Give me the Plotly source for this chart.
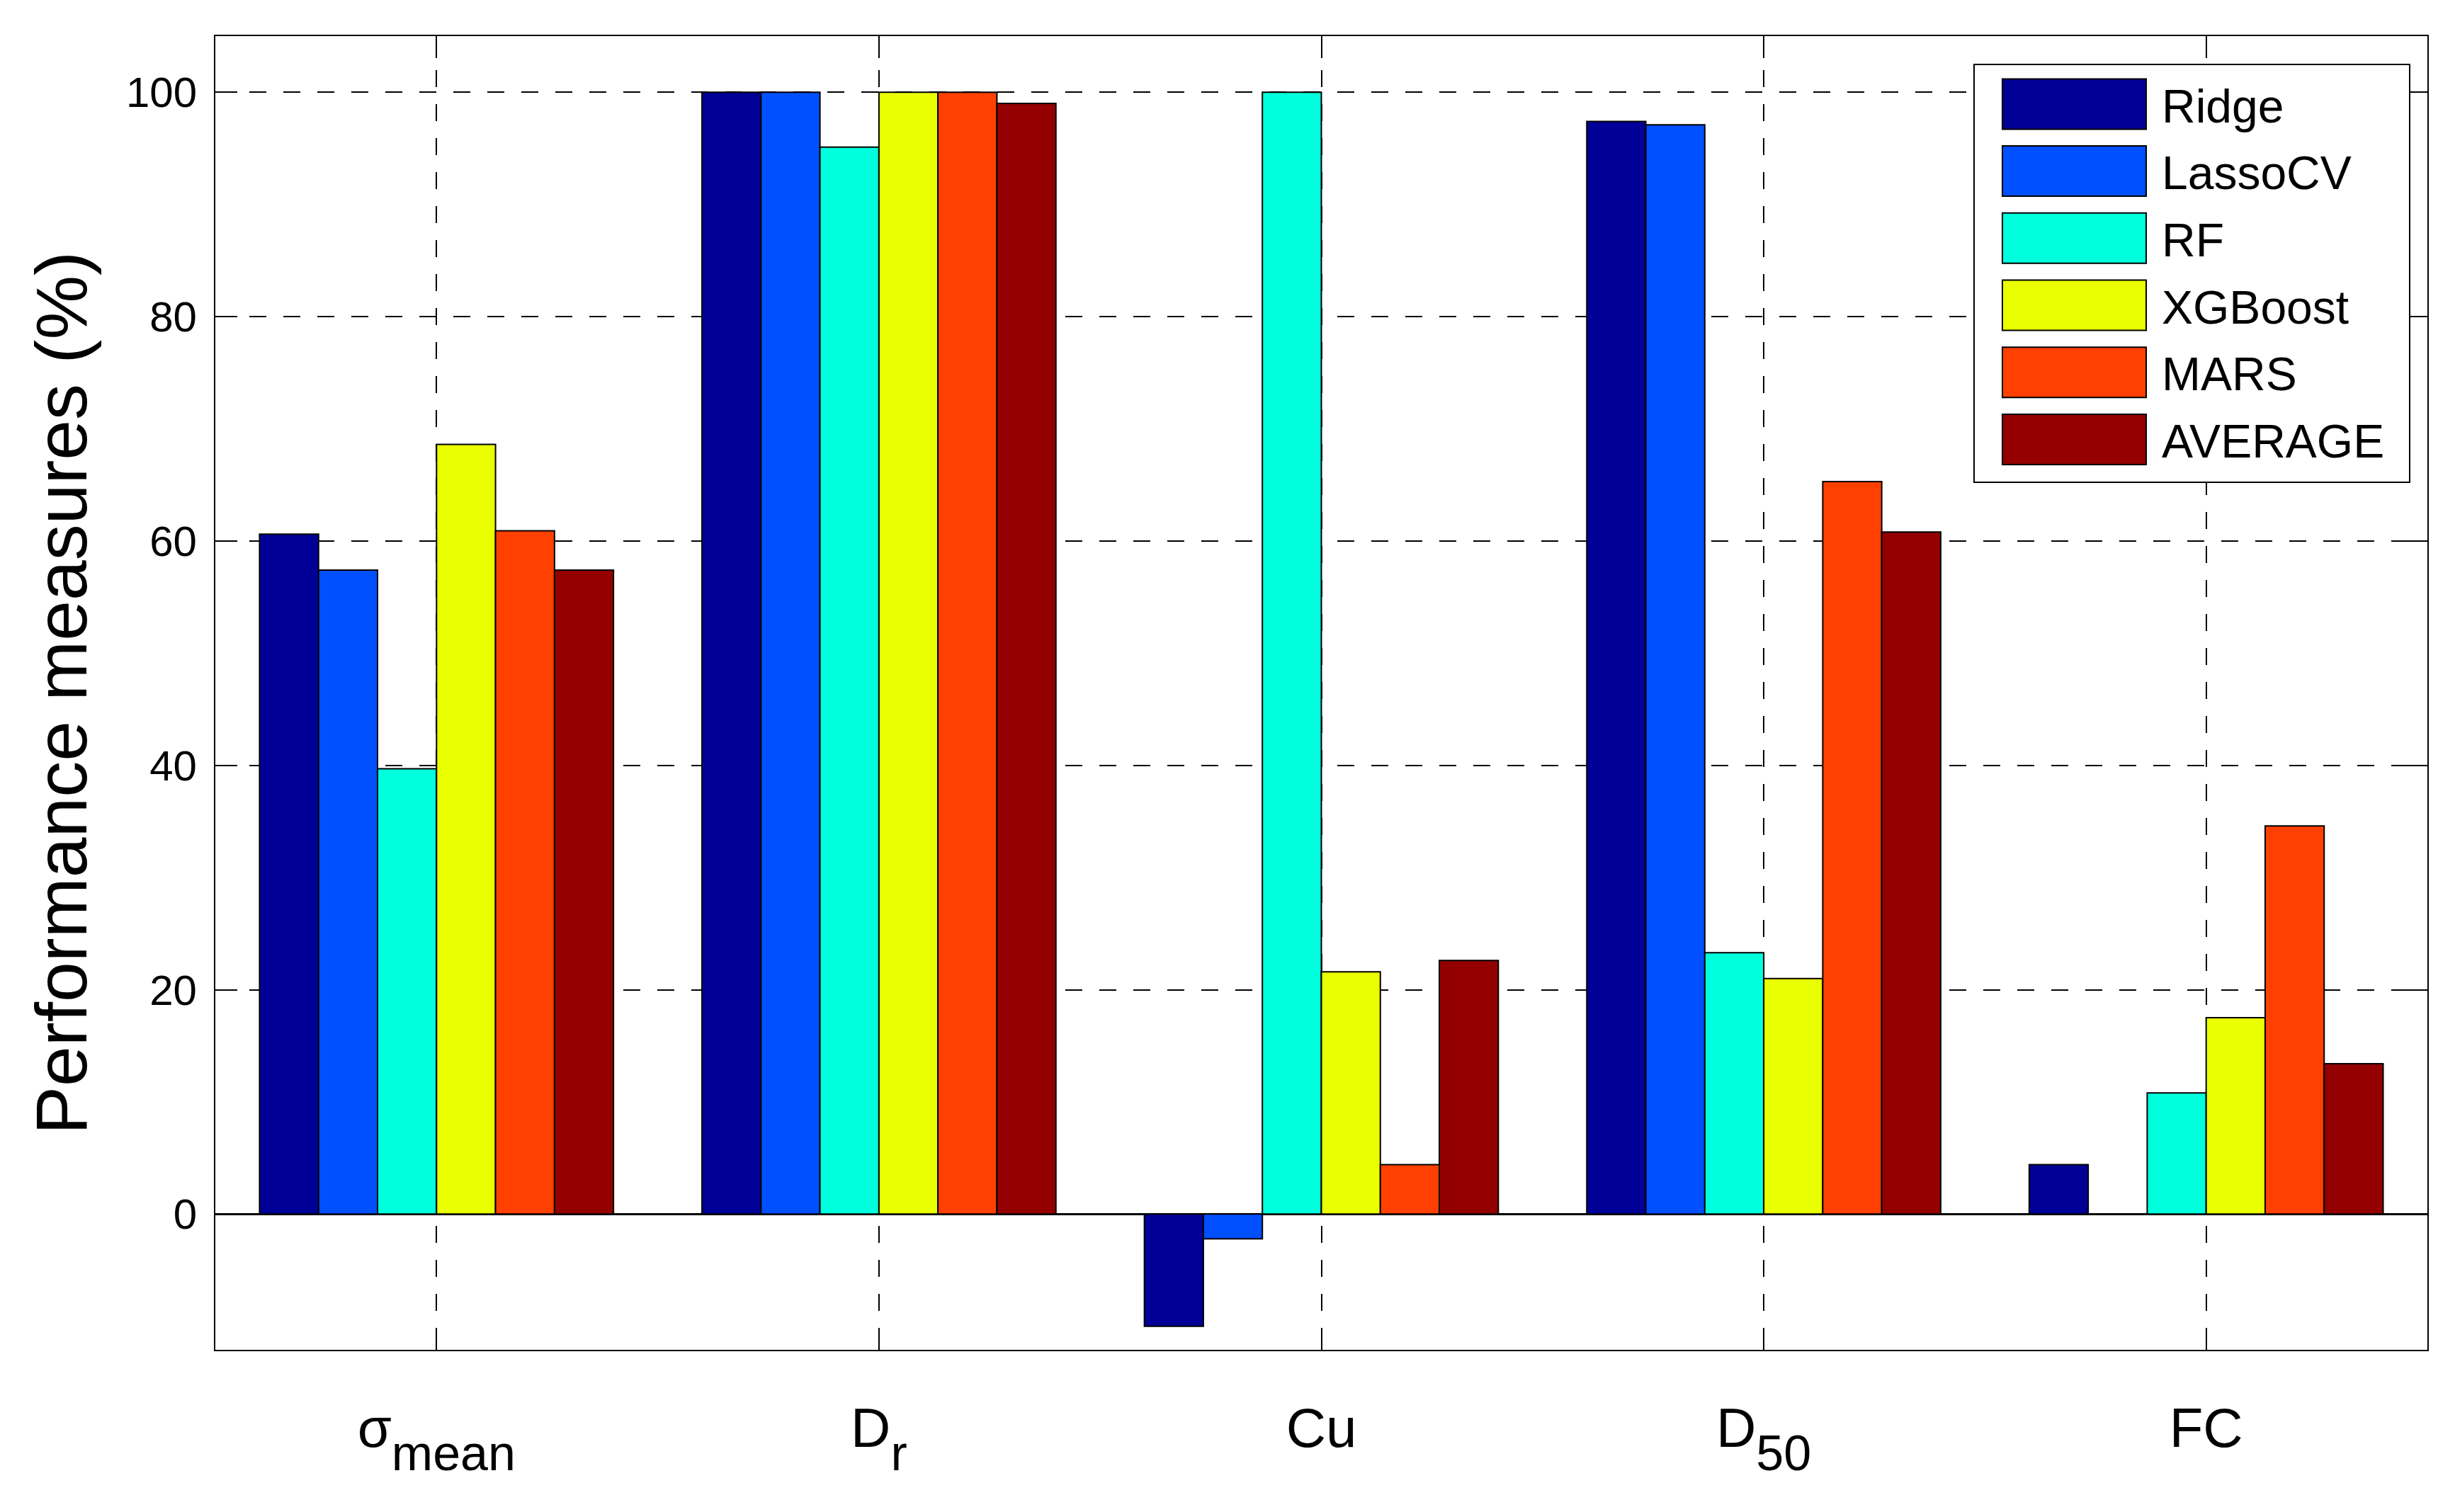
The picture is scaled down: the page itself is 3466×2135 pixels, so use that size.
import plotly.graph_objects as go

# ---------------- data ----------------
SUB_OPEN = "<span style=\"font-size:160px\"><sub><span style=\"font-size:70px\">"
SUB_CLOSE = "</span></sub></span>"
categories = ["σ" + SUB_OPEN + "mean" + SUB_CLOSE,
              "D" + SUB_OPEN + "r" + SUB_CLOSE,
              "Cu",
              "D" + SUB_OPEN + "50" + SUB_CLOSE,
              "FC"]
cat_pos = [1, 2, 3, 4, 5]
series_names = ["Ridge", "LassoCV", "RF", "XGBoost", "MARS", "AVERAGE"]
ridge   = [60.6, 100.0, -10.0, 97.4, 4.4]
lassocv = [57.4, 100.0, -2.2, 97.1, 0.0]
rf      = [39.7, 95.1, 100.0, 23.3, 10.8]
xgboost = [68.6, 100.0, 21.6, 21.0, 17.5]
mars    = [60.9, 100.0, 4.4, 65.3, 34.6]
average = [57.4, 99.0, 22.6, 60.8, 13.4]
series_values = [ridge, lassocv, rf, xgboost, mars, average]
series_colors = ["#000096", "#0050FF", "#00FFDD", "#EAFF00", "#FF4000", "#940000"]
y_ticks = [0, 20, 40, 60, 80, 100]

# ---------------- layout constants (page pixels) ----------------
PAGE_W, PAGE_H = 3466, 2135
OFF = 8                      # default body margin of the html page
W, H = PAGE_W - OFF, PAGE_H - OFF
PLOT_L, PLOT_R, PLOT_T, PLOT_B = 304, 3427, 51, 1906   # page coords of plot area
ML, MT = PLOT_L - OFF, PLOT_T - OFF
MR, MB = PAGE_W - PLOT_R, PAGE_H - PLOT_B
PW, PH = PLOT_R - PLOT_L, PLOT_B - PLOT_T
FONT = "Liberation Sans, Arial, sans-serif"
LEG_FONT = 66
ITEM_STEP = 94.7
ITEM_H = LEG_FONT * 1.3 + 3

def px_x(x):
    return (x - PLOT_L) / PW

def px_y(y):
    return (PLOT_B - y) / PH

fig = go.Figure()
for name, vals, col in zip(series_names, series_values, series_colors):
    fig.add_trace(go.Bar(
        x=cat_pos, y=vals, name=name,
        marker=dict(color=col, line=dict(color="black", width=2)),
        showlegend=False,
    ))
# legend entries (text from the library legend; big swatches drawn as shapes)
for name, col in zip(series_names, series_colors):
    fig.add_trace(go.Scatter(
        x=[None], y=[None], mode="lines", name=name, legendgroup=name,
        line=dict(color=col, width=0), showlegend=True, hoverinfo="skip",
    ))

# MATLAB-style legend box and swatches
shapes = [dict(type="rect", xref="paper", yref="paper",
               x0=px_x(2787), x1=px_x(3402), y0=px_y(681), y1=px_y(91),
               line=dict(color="black", width=2), fillcolor="white", layer="above")]
for i, col in enumerate(series_colors):
    top = 111.4 + ITEM_STEP * i
    shapes.append(dict(type="rect", xref="paper", yref="paper",
                       x0=px_x(2827), x1=px_x(3030), y0=px_y(top + 71), y1=px_y(top),
                       line=dict(color="black", width=2), fillcolor=col, layer="above"))

first_center = 111.4 + 35.5
leg_top = first_center - 5 - ITEM_H / 2

fig.update_layout(
    width=W, height=H,
    margin=dict(l=ML, r=MR, t=MT, b=MB, autoexpand=False),
    paper_bgcolor="white", plot_bgcolor="white",
    barmode="group", bargap=0.2, bargroupgap=0,
    shapes=shapes,
    font=dict(family=FONT, color="black"),
    showlegend=True,
    legend=dict(x=px_x(3052 - 40), y=px_y(leg_top), xanchor="left", yanchor="top",
                bgcolor="rgba(0,0,0,0)", borderwidth=0, itemwidth=30,
                traceorder="grouped", tracegroupgap=ITEM_STEP - ITEM_H,
                font=dict(family=FONT, size=LEG_FONT, color="black"),
                itemclick=False, itemdoubleclick=False),
)
fig.update_xaxes(
    range=[0.5, 5.5], tickmode="array", tickvals=cat_pos, ticktext=categories,
    tickfont=dict(family=FONT, size=78, color="black"),
    showline=True, linecolor="black", linewidth=2, mirror="ticks",
    ticks="inside", ticklen=31, tickwidth=2, tickcolor="black",
    showgrid=True, gridcolor="black", gridwidth=2, griddash="24px,24px",
    zeroline=False, ticklabelstandoff=41,
)
fig.update_yaxes(
    range=[-12.1, 105.0], tickmode="array", tickvals=y_ticks,
    ticktext=[str(v) for v in y_ticks],
    tickfont=dict(family=FONT, size=60, color="black"),
    showline=True, linecolor="black", linewidth=2, mirror="ticks",
    ticks="inside", ticklen=31, tickwidth=2, tickcolor="black",
    showgrid=True, gridcolor="black", gridwidth=2, griddash="24px,24px",
    zeroline=True, zerolinecolor="black", zerolinewidth=3,
    ticklabelstandoff=12,
    title=dict(text="Performance measures (%)", standoff=21,
               font=dict(family=FONT, size=102, color="black")),
)
fig.write_html("out.html")
